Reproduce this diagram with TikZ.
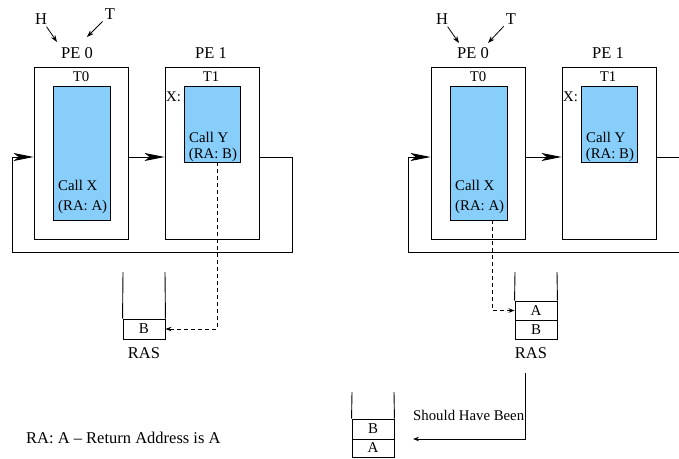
\documentclass[tikz,border=0pt]{standalone}
\usepackage{fontspec}
\setmainfont{Liberation Serif}
\usetikzlibrary{arrows.meta}
\definecolor{callblue}{RGB}{135,206,250}
\tikzset{
  pebox/.style={draw, line width=0.9pt, minimum width=94pt, minimum height=172pt, inner sep=0pt},
  bluebox/.style={draw, fill=callblue, line width=0.9pt, inner sep=0pt},
  cell/.style={draw, line width=0.9pt, minimum width=42pt, inner sep=0pt, font=\fontsize{15}{15}\selectfont},
  big/.style={font=\fontsize{16.5}{18}\selectfont, inner sep=0pt},
  small/.style={font=\fontsize{14.8}{16}\selectfont, inner sep=0pt},
  ring/.style={line width=0.9pt, -{Stealth[length=20pt,width=8pt,inset=5pt]}},
  wire/.style={line width=0.9pt},
  dashline/.style={line width=0.9pt, dash pattern=on 4pt off 3pt, -{Stealth[length=6pt,width=4.5pt]}},
  tinyarrow/.style={line width=0.8pt, shorten <=3pt, -{Stealth[length=7pt,width=5pt]}},
}
\begin{document}
\begin{tikzpicture}[x=1pt,y=-1pt]
\useasboundingbox (0,0) rectangle (679,458);
\clip (0,0) rectangle (679,458);

% ---------------- left panel ----------------
\node[pebox] (pe0) at (81,153) {};
\node[bluebox, minimum width=57pt, minimum height=134pt] (b0) at (81.5,153) {};
\node[pebox] (pe1) at (212,153) {};
\node[bluebox, minimum width=56pt, minimum height=76pt] (b1) at (212,124) {};

\node[big, anchor=base] (pe0l) at (77,58) {PE 0};
\node[big, anchor=base] (pe1l) at (211,58) {PE 1};
\node[small, anchor=base] (t0l) at (81,81) {T0};
\node[small, anchor=base] (t1l) at (211,81) {T1};
\node[small, anchor=base west] (xl) at (166,101) {X:};
\node[small, anchor=base west] (cx) at (58,190.6) {Call X};
\node[small, anchor=base west] (rax) at (58,210.6) {(RA: A)};
\node[small, anchor=base west] (cy) at (189,142.6) {Call Y};
\node[small, anchor=base west] (ray) at (188.7,158) {(RA: B)};

\node[big, anchor=base] (hL) at (41,24) {H};
\node[big, anchor=base] (tL) at (110,19.5) {T};
\coordinate (hLe) at (57,42);
\coordinate (tLe) at (87,37);
\draw[tinyarrow] (hL) -- (hLe);
\draw[tinyarrow] (tL) -- (tLe);

\draw[ring] ([yshift=-4pt]pe0.east) -- ([yshift=-4pt]pe1.west);
\draw[ring] ([yshift=-4pt]pe1.east) -- (292,157) -- (292,252) -- (12,252) -- (12,157) -- ([yshift=-4pt]pe0.west);

% RAS left
\node[cell, minimum height=20pt] (rasB) at (144,329) {B};
\draw[wire] (123,272) -- (rasB.north west);
\draw[wire] (165,272) -- (rasB.north east);
\node[big, anchor=base] (rasL) at (144,358.5) {RAS};
\draw[dashline] ([xshift=5pt]b1.south) |- (rasB.east);

\node[big, anchor=base west] (note) at (26,443.5) {RA: A -- Return Address is A};

% ---------------- right panel ----------------
\node[pebox] (pe0R) at (478,153) {};
\node[bluebox, minimum width=57pt, minimum height=134pt] (b0R) at (478.5,153) {};
\node[pebox] (pe1R) at (609,153) {};
\node[bluebox, minimum width=56pt, minimum height=76pt] (b1R) at (609,124) {};

\node[big, anchor=base] (pe0lR) at (473,58) {PE 0};
\node[big, anchor=base] (pe1lR) at (608,58) {PE 1};
\node[small, anchor=base] (t0lR) at (478,81) {T0};
\node[small, anchor=base] (t1lR) at (608,81) {T1};
\node[small, anchor=base west] (xlR) at (563,101) {X:};
\node[small, anchor=base west] (cxR) at (455,190.6) {Call X};
\node[small, anchor=base west] (raxR) at (455,210.6) {(RA: A)};
\node[small, anchor=base west] (cyR) at (586,142.6) {Call Y};
\node[small, anchor=base west] (rayR) at (585.7,158) {(RA: B)};

\node[big, anchor=base] (hR) at (442,24) {H};
\node[big, anchor=base] (tR) at (511,24) {T};
\coordinate (hRe) at (459,43);
\coordinate (tRe) at (488,43);
\draw[tinyarrow] (hR) -- (hRe);
\draw[tinyarrow] (tR) -- (tRe);

\draw[ring] ([yshift=-4pt]pe0R.east) -- ([yshift=-4pt]pe1R.west);
\draw[ring] ([yshift=-4pt]pe1R.east) -- (689,157) -- (689,252) -- (408,252) -- (408,157) -- ([yshift=-4pt]pe0R.west);

% RAS right
\node[cell, minimum height=19pt] (rasA2) at (536,310.5) {A};
\node[cell, minimum height=19pt] (rasB2) at (536,329.5) {B};
\draw[wire] (515,272) -- (rasA2.north west);
\draw[wire] (557,272) -- (rasA2.north east);
\node[big, anchor=base] (rasR) at (531,358.5) {RAS};
\draw[dashline] ([xshift=13.5pt]b0R.south) |- (rasA2.west);

% should have been
\node[cell, minimum height=20pt] (sB) at (373,429) {B};
\node[cell, minimum height=18pt] (sA) at (373,448) {A};
\draw[wire] (352,392) -- (sB.north west);
\draw[wire] (394,392) -- (sB.north east);
\coordinate (shTop) at (525,373);
\coordinate (shEnd) at (413,439);
\draw[line width=0.9pt, -{Stealth[length=6pt,width=4.5pt]}] (shTop) |- (shEnd);
\node[small, anchor=base west] (shl) at (413,420) {Should Have Been};
\end{tikzpicture}
\end{document}
